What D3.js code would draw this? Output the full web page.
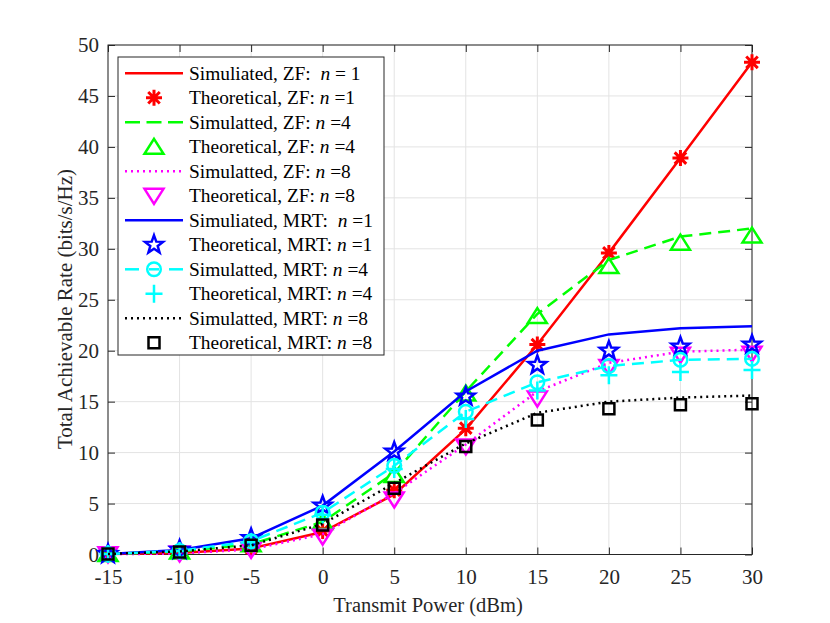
<!DOCTYPE html>
<html>
<head>
<meta charset="utf-8">
<script src="https://cdn.jsdelivr.net/npm/d3@7"></script>
<style>
  body { margin: 0; background: #fff; }
  svg, svg text { font-family: "Liberation Serif", "Times New Roman", Times, "DejaVu Serif", serif; }
</style>
</head>
<body>
<div id="chart"></div>
<script>
// Transmit power (dBm)
var power = [-15, -10, -5, 0, 5, 10, 15, 20, 25, 30];

// ZF
var zfSim1 = [0.04, 0.15, 0.6, 2.2, 5.9, 12.3, 20.6, 29.6, 38.9, 48.3];
var zfTheo1 = [0.04, 0.15, 0.65, 2.3, 6.3, 12.4, 20.6, 29.6, 38.9, 48.3];
var zfSim4 = [0.05, 0.3, 1.0, 3.2, 8.0, 16.0, 23.6, 28.9, 31.2, 32.0];
var zfTheo4 = [0.05, 0.3, 1.0, 3.2, 7.8, 15.8, 23.4, 28.3, 30.6, 31.3];
var zfSim8 = [0.03, 0.1, 0.5, 2.0, 6.0, 10.8, 16.0, 18.8, 19.9, 20.1];
var zfTheo8 = [0.02, 0.1, 0.45, 1.75, 5.4, 10.6, 15.3, 18.4, 19.6, 19.7];

// MRT
var mrtSim1 = [0.05, 0.45, 1.6, 4.8, 10.1, 16.0, 20.0, 21.6, 22.2, 22.4];
var mrtTheo1 = [0.05, 0.45, 1.6, 4.8, 10.1, 15.5, 18.6, 20.0, 20.4, 20.6];
var mrtSim4 = [0.05, 0.35, 1.3, 4.1, 8.7, 14.0, 16.9, 18.5, 19.1, 19.2];
var mrtTheo4 = [0.05, 0.35, 1.2, 3.9, 8.4, 13.3, 16.1, 17.6, 17.9, 18.1];
var mrtSim8 = [0.05, 0.3, 0.9, 3.0, 7.0, 10.9, 13.9, 15.0, 15.4, 15.6];
var mrtTheo8 = [0.05, 0.25, 0.9, 2.9, 6.5, 10.6, 13.2, 14.3, 14.7, 14.8];

var xTicks = [-15, -10, -5, 0, 5, 10, 15, 20, 25, 30];
var yTicks = [0, 5, 10, 15, 20, 25, 30, 35, 40, 45, 50];

// legend labels: [before n, after n]
var labels = [
  ["Simuliated, ZF:  ", " = 1"],
  ["Theoretical, ZF: ", " =1"],
  ["Simulatted, ZF: ", " =4"],
  ["Theoretical, ZF: ", " =4"],
  ["Simulatted, ZF: ", " =8"],
  ["Theoretical, ZF: ", " =8"],
  ["Simuliated, MRT:  ", " =1"],
  ["Theoretical, MRT: ", " =1"],
  ["Simulatted, MRT: ", " =4"],
  ["Theoretical, MRT: ", " =4"],
  ["Simulatted, MRT: ", " =8"],
  ["Theoretical, MRT: ", " =8"]
];

// series in drawing order (same as legend)
var series = [
  {values: zfSim1, color: "#ff0000", dash: null, marker: null},
  {values: zfTheo1, color: "#ff0000", line: false, marker: "asterisk"},
  {values: zfSim4, color: "#00ff00", dash: "12,7", marker: null},
  {values: zfTheo4, color: "#00ff00", line: false, marker: "triUp"},
  {values: zfSim8, color: "#ff00ff", dash: "2,4", marker: null},
  {values: zfTheo8, color: "#ff00ff", line: false, marker: "triDown"},
  {values: mrtSim1, color: "#0000ff", dash: null, marker: null},
  {values: mrtTheo1, color: "#0000ff", line: false, marker: "star"},
  {values: mrtSim4, color: "#00ffff", dash: "12,7", marker: "circle"},
  {values: mrtTheo4, color: "#00ffff", line: false, marker: "plus"},
  {values: mrtSim8, color: "#000000", dash: "2,4", marker: null},
  {values: mrtTheo8, color: "#000000", line: false, marker: "square"}
];

var serif = '"Liberation Serif", "Times New Roman", Times, serif';

var margin = {top: 45, right: 78, bottom: 68.5, left: 108},
    W = 830, H = 623,
    width = W - margin.left - margin.right,
    height = H - margin.top - margin.bottom;

var x = d3.scaleLinear().domain([-15, 30]).range([0, width]);
var y = d3.scaleLinear().domain([0, 50]).range([height, 0]);

var svg = d3.select("#chart").append("svg")
    .attr("width", W)
    .attr("height", H)
    .attr("font-family", serif);

var g = svg.append("g")
    .attr("transform", "translate(" + margin.left + "," + margin.top + ")");

// grid
g.append("g").selectAll("line").data(xTicks).enter().append("line")
    .attr("x1", function(d) { return x(d); }).attr("x2", function(d) { return x(d); })
    .attr("y1", 0).attr("y2", height)
    .attr("stroke", "#e3e3e3").attr("stroke-width", 1);
g.append("g").selectAll("line").data(yTicks).enter().append("line")
    .attr("y1", function(d) { return y(d); }).attr("y2", function(d) { return y(d); })
    .attr("x1", 0).attr("x2", width)
    .attr("stroke", "#e3e3e3").attr("stroke-width", 1);

// axes (ticks inward, box on); plain hyphen for negatives like MATLAB
var tk = 7;
var fmt = function(d) { return String(d); };
function styleAxis(sel) {
  sel.attr("font-family", serif).attr("font-size", 21);
  sel.select(".domain").remove();
  sel.selectAll(".tick line").attr("stroke", "#262626").attr("stroke-width", 1);
  sel.selectAll(".tick text")
    .style("font-family", serif)
    .style("font-size", "21px")
    .attr("fill", "#262626");
}
g.append("g").attr("transform", "translate(0," + height + ")")
    .call(d3.axisBottom(x).tickValues(xTicks).tickFormat(fmt).tickSizeInner(-tk).tickSizeOuter(0).tickPadding(15))
    .call(styleAxis);
g.append("g")
    .call(d3.axisTop(x).tickValues(xTicks).tickSizeInner(-tk).tickSizeOuter(0).tickFormat(""))
    .call(styleAxis);
g.append("g")
    .call(d3.axisLeft(y).tickValues(yTicks).tickFormat(fmt).tickSizeInner(-tk).tickSizeOuter(0).tickPadding(9))
    .call(styleAxis);
g.append("g").attr("transform", "translate(" + width + ",0)")
    .call(d3.axisRight(y).tickValues(yTicks).tickSizeInner(-tk).tickSizeOuter(0).tickFormat(""))
    .call(styleAxis);

g.append("rect")
    .attr("width", width).attr("height", height)
    .attr("fill", "none").attr("stroke", "#262626").attr("stroke-width", 1);

// marker shapes
function markerPath(type) {
  var p = d3.path();
  if (type === "asterisk") {
    var r = 8;
    p.moveTo(-r, 0); p.lineTo(r, 0);
    p.moveTo(0, -r); p.lineTo(0, r);
    var q = r * 0.72;
    p.moveTo(-q, -q); p.lineTo(q, q);
    p.moveTo(-q, q); p.lineTo(q, -q);
  } else if (type === "triUp") {
    p.moveTo(0, -8); p.lineTo(9.5, 7); p.lineTo(-9.5, 7); p.closePath();
  } else if (type === "triDown") {
    p.moveTo(0, 8); p.lineTo(9.5, -7); p.lineTo(-9.5, -7); p.closePath();
  } else if (type === "star") {
    var ro = 9.5, ri = 3.9;
    for (var i = 0; i < 10; i++) {
      var a = -Math.PI / 2 + i * Math.PI / 5, rr = i % 2 ? ri : ro;
      if (i === 0) p.moveTo(rr * Math.cos(a), rr * Math.sin(a));
      else p.lineTo(rr * Math.cos(a), rr * Math.sin(a));
    }
    p.closePath();
  } else if (type === "circle") {
    p.arc(0, 0, 6.8, 0, 2 * Math.PI);
  } else if (type === "plus") {
    p.moveTo(-8.5, 0); p.lineTo(8.5, 0);
    p.moveTo(0, -9); p.lineTo(0, 9);
  } else if (type === "square") {
    p.rect(-5.5, -5.5, 11, 11);
  }
  return p.toString();
}

var line = d3.line()
    .x(function(d, i) { return x(power[i]); })
    .y(function(d) { return y(d); });

series.forEach(function(s) {
  if (s.line !== false) {
    g.append("path")
      .datum(s.values)
      .attr("d", line)
      .attr("fill", "none")
      .attr("stroke", s.color)
      .attr("stroke-width", 2.5)
      .attr("stroke-dasharray", s.dash);
  }
  if (s.marker) {
    g.append("g").selectAll("path").data(s.values).enter().append("path")
      .attr("transform", function(d, i) { return "translate(" + x(power[i]) + "," + y(d) + ")"; })
      .attr("d", markerPath(s.marker))
      .attr("fill", "none")
      .attr("stroke", s.color)
      .attr("stroke-width", s.marker === "asterisk" ? 3 : 2.5);
  }
});

// legend
var lg = svg.append("g").attr("transform", "translate(118,57)");
lg.append("rect")
    .attr("width", 266).attr("height", 298)
    .attr("fill", "#fff").attr("stroke", "#262626").attr("stroke-width", 1);

series.forEach(function(s, i) {
  var cy = 16.3 + i * 24.5;
  if (s.line !== false) {
    if (s.marker) {
      // dash - marker - dash
      [[7, 21], [51, 65]].forEach(function(seg) {
        lg.append("line")
          .attr("x1", seg[0]).attr("x2", seg[1]).attr("y1", cy).attr("y2", cy)
          .attr("stroke", s.color).attr("stroke-width", 2.5);
      });
      lg.append("line")
        .attr("x1", 31).attr("x2", 41).attr("y1", cy).attr("y2", cy)
        .attr("stroke", s.color).attr("stroke-width", 2.5);
    } else {
      lg.append("line")
        .attr("x1", 7).attr("x2", 65).attr("y1", cy).attr("y2", cy)
        .attr("stroke", s.color).attr("stroke-width", 2.5)
        .attr("stroke-dasharray", s.dash === "12,7" ? "15,6.5" : s.dash);
    }
  }
  if (s.marker) {
    lg.append("path")
      .attr("transform", "translate(36," + cy + ")")
      .attr("d", markerPath(s.marker))
      .attr("fill", "none").attr("stroke", s.color)
      .attr("stroke-width", s.marker === "asterisk" ? 3 : 2.5);
  }
  var t = lg.append("text")
      .attr("x", 71).attr("y", cy + 6.5)
      .attr("xml:space", "preserve")
      .style("font-family", serif)
      .style("font-size", "19.4px")
      .attr("fill", "#000");
  t.append("tspan").text(labels[i][0]);
  t.append("tspan").style("font-style", "italic").text("n");
  t.append("tspan").text(labels[i][1]);
});

// axis titles
svg.append("text")
    .attr("x", margin.left + width / 2 - 2)
    .attr("y", 612)
    .attr("text-anchor", "middle")
    .style("font-family", serif)
    .style("font-size", "20.5px")
    .attr("fill", "#262626")
    .text("Transmit Power (dBm)");

svg.append("text")
    .attr("transform", "translate(72,309) rotate(-90)")
    .attr("text-anchor", "middle")
    .style("font-family", serif)
    .style("font-size", "21px")
    .attr("fill", "#262626")
    .text("Total Achievable Rate (bits/s/Hz)");
</script>
</body>
</html>
